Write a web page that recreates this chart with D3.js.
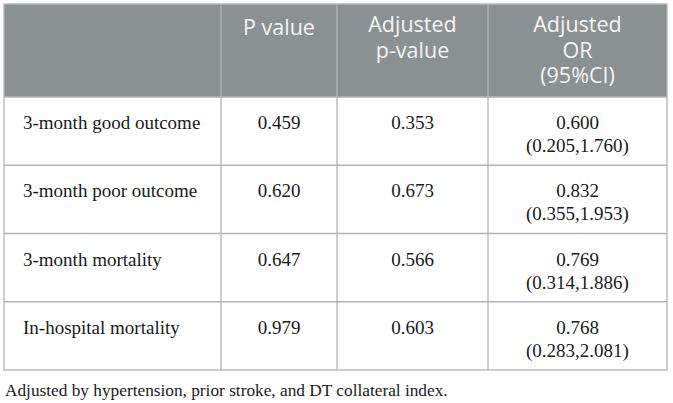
<!DOCTYPE html>
<html>
<head>
<meta charset="utf-8">
<script src="https://cdn.jsdelivr.net/npm/d3@7"></script>
<style>
  body { margin: 0; background: #fff; }
  svg { display: block; }
</style>
</head>
<body>
<svg id="table" width="673" height="403"></svg>
<script>
// table contents
var headers = [[""], ["P value"], ["Adjusted", "p-value"], ["Adjusted", "OR", "(95%CI)"]];
var outcomes = ["3-month good outcome", "3-month poor outcome", "3-month mortality", "In-hospital mortality"];
var pValues = ["0.459", "0.620", "0.647", "0.979"];
var adjPValues = ["0.353", "0.673", "0.566", "0.603"];
var adjOR = ["0.600", "0.832", "0.769", "0.768"];
var ciLow = ["0.205", "0.355", "0.314", "0.283"];
var ciHigh = ["1.760", "1.953", "1.886", "2.081"];
var footnote = "Adjusted by hypertension, prior stroke, and DT collateral index.";

var svg = d3.select("#table");

var tLeft = 4, tRight = 667, tTop = 4, headBottom = 97, tBottom = 370;
var colWidths = [217, 116, 151, 179];
var colEdges = [tLeft];
colWidths.forEach(function (w, i) { colEdges.push(colEdges[i] + w); });

var y = d3.scaleBand().domain(outcomes).range([headBottom, tBottom]);

// header background
svg.append("rect")
  .attr("x", tLeft).attr("y", tTop)
  .attr("width", tRight - tLeft).attr("height", headBottom - tTop)
  .attr("fill", "#8b9093");

// header text
var head = svg.append("g").attr("class", "head");
headers.forEach(function (lines, i) {
  var cx = (colEdges[i] + colEdges[i + 1]) / 2;
  var y0 = lines.length === 1 ? 35 : 32;
  lines.forEach(function (l, j) {
    head.append("text")
      .attr("x", cx).attr("y", y0 + j * 25.5)
      .attr("text-anchor", "middle")
      .attr("fill", "#f4f4f4")
      .attr("font-family", "'Open Sans', sans-serif")
      .attr("font-size", 21.5)
      .text(l);
  });
});

// body rows
var rows = outcomes.map(function (o, i) {
  return {
    cells: [[o], [pValues[i]], [adjPValues[i]], [adjOR[i], "(" + ciLow[i] + "," + ciHigh[i] + ")"]],
    key: o
  };
});

var rowG = svg.selectAll("g.row").data(rows).join("g").attr("class", "row")
  .attr("transform", function (d) { return "translate(0," + y(d.key) + ")"; });

rowG.each(function (d) {
  var g = d3.select(this);
  d.cells.forEach(function (lines, i) {
    var isFirst = i === 0;
    var x = isFirst ? colEdges[0] + 19 : (colEdges[i] + colEdges[i + 1]) / 2;
    lines.forEach(function (l, j) {
      g.append("text")
        .attr("x", x).attr("y", 32 + j * 23)
        .attr("text-anchor", isFirst ? "start" : "middle")
        .attr("fill", "#1a1a1a")
        .attr("font-family", "'Liberation Serif', serif")
        .attr("font-size", 19)
        .text(l);
    });
  });
});

// grid lines
var grid = svg.append("g").attr("stroke", "#b3b3b3").attr("stroke-width", 1.3).attr("fill", "none");
grid.append("rect")
  .attr("x", tLeft).attr("y", tTop)
  .attr("width", tRight - tLeft).attr("height", tBottom - tTop);
grid.selectAll("line.h").data(outcomes).join("line").attr("class", "h")
  .attr("x1", tLeft).attr("x2", tRight)
  .attr("y1", function (d) { return y(d); }).attr("y2", function (d) { return y(d); });
grid.selectAll("line.v").data(colEdges.slice(1, -1)).join("line").attr("class", "v")
  .attr("x1", function (d) { return d; }).attr("x2", function (d) { return d; })
  .attr("y1", tTop).attr("y2", tBottom);

// footnote
svg.append("text")
  .attr("x", 5).attr("y", 396)
  .attr("fill", "#1a1a1a")
  .attr("font-family", "'Liberation Serif', serif")
  .attr("font-size", 17.3)
  .text(footnote);
</script>
</body>
</html>
